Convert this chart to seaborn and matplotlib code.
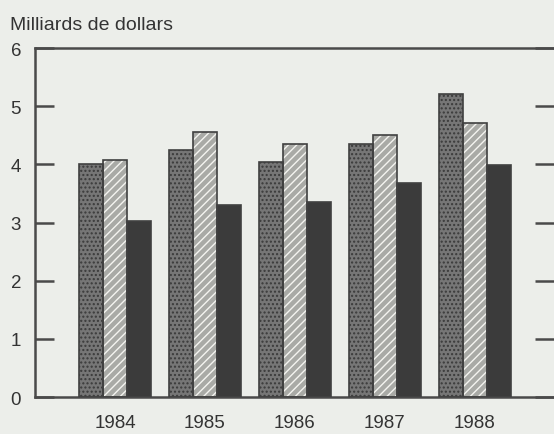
import pandas as pd
import matplotlib
matplotlib.use("Agg")
import matplotlib.pyplot as plt
import seaborn as sns
from matplotlib.patches import Rectangle

years = ["1984", "1985", "1986", "1987", "1988"]
series_a = [4.0, 4.25, 4.05, 4.35, 5.22]
series_b = [4.07, 4.55, 4.35, 4.5, 4.72]
series_c = [3.02, 3.3, 3.35, 3.68, 3.99]
series_names = ["A", "B", "C"]

df = pd.DataFrame({
    "year": years * 3,
    "value": series_a + series_b + series_c,
    "series": [series_names[0]] * 5 + [series_names[1]] * 5 + [series_names[2]] * 5,
})

sns.set_style("white")
plt.rcParams["font.family"] = ["Liberation Sans", "DejaVu Sans"]

bg = "#eceeea"
ink = "#4a4a4a"

fig = plt.figure(figsize=(5.54, 4.35), dpi=100, facecolor=bg)
ax = fig.add_axes([0.063, 0.085, 0.937, 0.802])
ax.set_facecolor(bg)

sns.barplot(
    data=df, x="year", y="value", hue="series",
    width=0.8, legend=False, ax=ax,
    palette=["#767676", "#a9aaa6", "#3b3b3b"],
    saturation=1,
)

bars = list(ax.patches)
for i, p in enumerate(bars):
    s = i // len(years)
    if s == 0:
        p.set_hatch("....")
        p.set_edgecolor("#3a3a3a")
        p.set_linewidth(0)
    elif s == 1:
        p.set_hatch("////")
        p.set_edgecolor("#f4f4f0")
        p.set_linewidth(0)
    else:
        p.set_linewidth(0)
    ax.add_patch(Rectangle(p.get_xy(), p.get_width(), p.get_height(),
                           fill=False, ec="#404040", lw=1.2, zorder=3))

ax.set_xlim(-0.89, 4.88)
ax.set_ylim(0, 6)
ax.set_yticks(range(0, 7))
ax.set_xlabel("")
ax.set_ylabel("")

ax.tick_params(axis="y", direction="in", length=14, width=1.8, color=ink,
               labelsize=13.5, labelcolor="#333333", pad=10,
               left=True, right=True)
ax.tick_params(axis="x", length=0, labelsize=13.5, labelcolor="#333333", pad=12)

for side in ["left", "top", "bottom"]:
    ax.spines[side].set_color(ink)
    ax.spines[side].set_linewidth(1.8)
ax.spines["right"].set_visible(False)

fig.text(0.018, 0.93, "Milliards de dollars", fontsize=14, color="#333333")

fig.savefig("out.png", dpi=100, facecolor=bg)
